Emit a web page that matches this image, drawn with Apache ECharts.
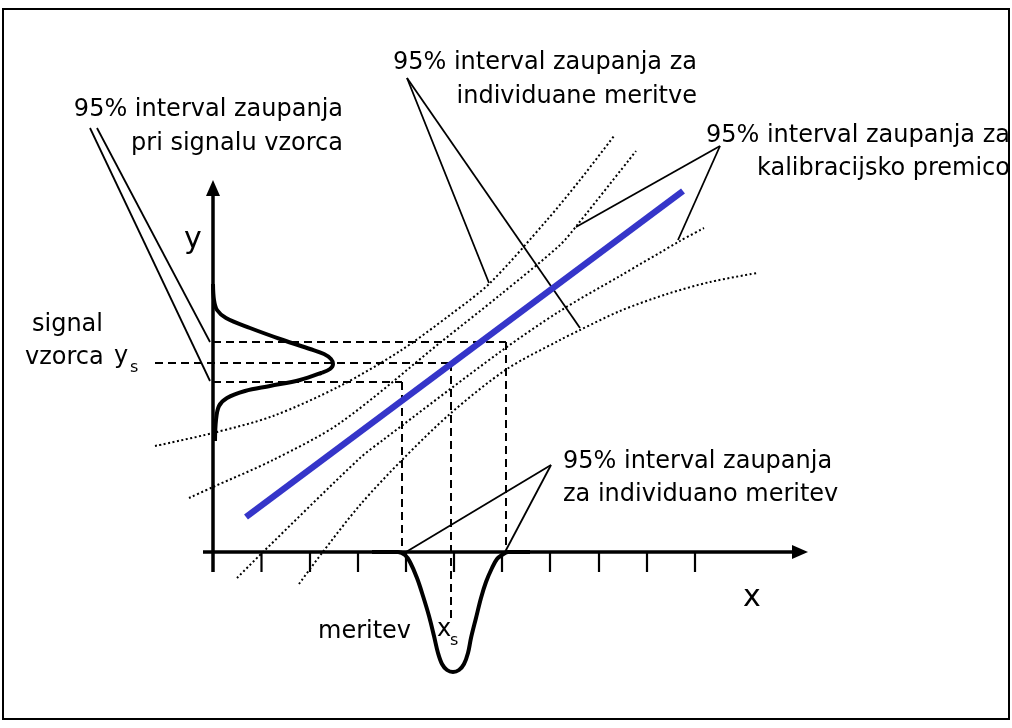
<!DOCTYPE html>
<html>
<head>
<meta charset="utf-8">
<script src="https://cdn.jsdelivr.net/npm/echarts@6/dist/echarts.min.js"></script>
<style>
html,body{margin:0;padding:0;background:#fff;}
#chart{width:1012px;height:728px;}
</style>
</head>
<body>
<div id="chart"></div>
<script>
// Diagram coordinates (schematic, plane units of the hidden value axes)
var calibrationLine = [[246,517],[683,191]];
var upperOuterBand = [[155,446],[213,433],[273,416],[340,386],[400,351],[450,315],[490,283],[547,220],[580,180],[614,136]];
var upperInnerBand = [[189,498],[213,487],[273,460],[340,423],[441,342],[500,295],[560,245],[578,224],[636,151]];
var lowerInnerBand = [[237,578],[263,552],[360,458],[383,440],[500,352],[560,311],[620,276],[680,241],[704,228]];
var lowerOuterBand = [[299,584],[322,553],[360,505],[402,460],[451,413],[507,369],[560,340],[580,330],[620,311],[667,294],[710,282],[757,273]];
var signalDistribution = [[213,284],[214,300],[217,310],[226,318],[250,328],[283,340],[310,349],[324,354],[331,359],[333,364],[330,369],[321,373],[300,380],[270,386],[245,391],[227,398],[219,406],[216,420],[215,441]];
var measurementDistribution = [[372,552],[398,552],[405,555],[410,562],[417,578],[423,596],[429,616],[434,636],[438,653],[442,664],[447,670],[453,672],[459,670],[464,664],[468,653],[471,638],[476,618],[481,598],[486,582],[492,568],[497,559],[502,555],[508,552],[530,552]];
var dashedGuides = [
  [[213,342],[506,342]],
  [[155,363],[451,363]],
  [[213,382],[402,382]],
  [[402,382],[402,552]],
  [[451,363],[451,622]],
  [[506,342],[506,552]]
];
var xAxisLine = [[203,552],[796,552]];
var yAxisLine = [[213,572],[213,192]];
var xTicks = [261.5,310,358,406,454,502,550,599,647,695];
var leaderLines = [
  [[90,128],[210,381]], [[97,128],[210,342]],
  [[407,78],[489,283]], [[407,78],[580,328]],
  [[720,146],[576,227]], [[720,146],[678,240]],
  [[551,465],[406,552]], [[551,465],[505,552]]
];

var chart = echarts.init(document.getElementById('chart'), null, {renderer:'canvas'});
var series = [];
function lineSeries(data, style, smooth, z){
  series.push({type:'line', data:data, symbol:'none', smooth:smooth||false,
    silent:true, lineStyle:style, z:z||2, animation:false});
}
var dotted = {color:'#000', width:2, type:[2,2.5]};
lineSeries(upperOuterBand, dotted, 0.3);
lineSeries(upperInnerBand, dotted, 0.3);
lineSeries(lowerInnerBand, dotted, 0.3);
lineSeries(lowerOuterBand, dotted, 0.3);
dashedGuides.forEach(function(d){ lineSeries(d, {color:'#000', width:2, type:[8,5]}); });
leaderLines.forEach(function(d){ lineSeries(d, {color:'#000', width:1.8}); });
lineSeries(xAxisLine, {color:'#000', width:3.5}, false, 3);
lineSeries(yAxisLine, {color:'#000', width:3.5}, false, 3);
xTicks.forEach(function(x){ lineSeries([[x,552],[x,572]], {color:'#000', width:2.2}, false, 3); });
lineSeries(calibrationLine, {color:'#3535c9', width:6.5, cap:'butt'}, false, 4);
lineSeries(signalDistribution, {color:'#000', width:4}, 0.35, 5);
lineSeries(measurementDistribution, {color:'#000', width:4}, 0.35, 5);

var F = '"DejaVu Sans", sans-serif';
function txt(t, x, y, size, align){
  return {type:'text', x:x, y:y, silent:true, style:{text:t, font: size+'px '+F, fill:'#000',
    textAlign:align||'left', textVerticalAlign:'middle'}};
}
var graphics = [
  {type:'rect', shape:{x:3,y:9,width:1006,height:710}, style:{fill:'none', stroke:'#000', lineWidth:2}, silent:true},
  {type:'polygon', shape:{points:[[206,196],[220,196],[213,180]]}, style:{fill:'#000'}, silent:true},
  {type:'polygon', shape:{points:[[792,545],[792,559],[808,552]]}, style:{fill:'#000'}, silent:true},
  txt('95% interval zaupanja', 343, 110, 24, 'right'),
  txt('pri signalu vzorca', 343, 144, 24, 'right'),
  txt('95% interval zaupanja za', 697, 63, 24, 'right'),
  txt('individuane meritve', 697, 97, 24, 'right'),
  txt('95% interval zaupanja za', 1010, 136, 24, 'right'),
  txt('kalibracijsko premico', 1010, 169, 24, 'right'),
  txt('95% interval zaupanja', 563, 462, 24, 'left'),
  txt('za individuano meritev', 563, 495, 24, 'left'),
  txt('signal', 32, 325, 24, 'left'),
  txt('vzorca', 25, 358, 24, 'left'),
  txt('y', 114, 357, 24, 'left'),
  txt('s', 130, 368, 16, 'left'),
  txt('meritev', 318, 632, 24, 'left'),
  txt('x', 437, 630, 24, 'left'),
  txt('s', 450, 641, 16, 'left'),
  txt('y', 193, 240, 30, 'center'),
  txt('x', 752, 598, 30, 'center')
];

chart.setOption({
  animation:false,
  backgroundColor:'#fff',
  grid:{left:0,right:0,top:0,bottom:0},
  xAxis:{type:'value', min:0, max:1012, show:false},
  yAxis:{type:'value', min:0, max:728, inverse:true, show:false},
  series:series,
  graphic:graphics
});
</script>
</body>
</html>
